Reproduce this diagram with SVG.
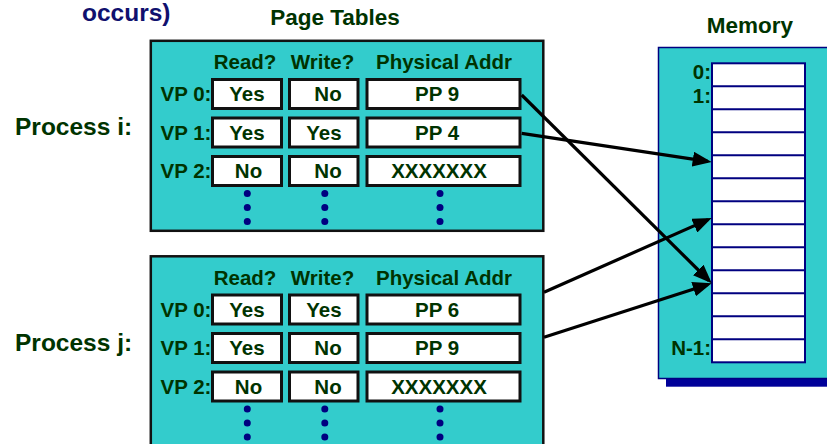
<svg xmlns="http://www.w3.org/2000/svg" width="827" height="444" viewBox="0 0 827 444">
<defs>
<style>
text{font-family:"Liberation Sans",Arial,sans-serif;font-weight:bold;fill:#003300}
.t{font-size:20.5px}
.m{text-anchor:middle}
.e{text-anchor:end}
.box{fill:#33CCCC;stroke:#111;stroke-width:2.5}
.cell{fill:#fff;stroke:#111;stroke-width:3}
.dot{fill:#000080}
.mcell{fill:#fff;stroke:#000080;stroke-width:2}
.arr{stroke:#000;stroke-width:3.2;fill:none;marker-end:url(#ah)}
</style>
<marker id="ah" markerUnits="userSpaceOnUse" markerWidth="19" markerHeight="15" refX="15" refY="7.5" orient="auto" viewBox="0 0 19 15">
<path d="M0,0 L19,7.5 L0,15 z" fill="#000"/>
</marker>
<g id="tbl">
<text class="t m" x="245" y="69.3">Read?</text>
<text class="t m" x="322.5" y="69.3">Write?</text>
<text class="t m" x="444" y="69.3">Physical Addr</text>
<rect class="cell" x="212.5" y="79.5" width="69" height="29"/>
<rect class="cell" x="289.5" y="79.5" width="68.5" height="29"/>
<rect class="cell" x="367" y="79.5" width="153" height="29"/>
<rect class="cell" x="212.5" y="118" width="69" height="29"/>
<rect class="cell" x="289.5" y="118" width="68.5" height="29"/>
<rect class="cell" x="367" y="118" width="153" height="29"/>
<rect class="cell" x="212.5" y="156.5" width="69" height="29"/>
<rect class="cell" x="289.5" y="156.5" width="68.5" height="29"/>
<rect class="cell" x="367" y="156.5" width="153" height="29"/>
<text class="t" x="160.5" y="101">VP 0:</text>
<text class="t" x="160.5" y="139.5">VP 1:</text>
<text class="t" x="160.5" y="178">VP 2:</text>
<circle class="dot" cx="247.3" cy="193.5" r="3.5"/>
<circle class="dot" cx="247.3" cy="207.5" r="3.5"/>
<circle class="dot" cx="247.3" cy="221.5" r="3.5"/>
<circle class="dot" cx="324.8" cy="193.5" r="3.5"/>
<circle class="dot" cx="324.8" cy="207.5" r="3.5"/>
<circle class="dot" cx="324.8" cy="221.5" r="3.5"/>
<circle class="dot" cx="440" cy="193.5" r="3.5"/>
<circle class="dot" cx="440" cy="207.5" r="3.5"/>
<circle class="dot" cx="440" cy="221.5" r="3.5"/>
</g>
</defs>

<text x="82" y="21" style="font-size:24.5px;fill:#10106e">occurs)</text>
<text class="m" x="335" y="25" style="font-size:22.5px">Page Tables</text>
<text class="m" x="750" y="33.3" style="font-size:22.5px">Memory</text>

<g id="process-i">
<text x="15" y="135" style="font-size:24.5px">Process i:</text>
<rect class="box" x="150.8" y="40.8" width="392.5" height="190"/>
<use href="#tbl"/>
<text class="t m" x="247" y="101">Yes</text>
<text class="t m" x="328" y="101">No</text>
<text class="t m" x="437" y="101">PP 9</text>
<text class="t m" x="247" y="139.5">Yes</text>
<text class="t m" x="324" y="139.5">Yes</text>
<text class="t m" x="437" y="139.5">PP 4</text>
<text class="t m" x="248.5" y="178">No</text>
<text class="t m" x="328" y="178">No</text>
<text class="t m" x="439" y="178">XXXXXXX</text>
</g>

<g id="process-j">
<text x="15" y="350.5" style="font-size:24.5px">Process j:</text>
<rect class="box" x="150.8" y="256.3" width="392.5" height="210"/>
<use href="#tbl" transform="translate(0,215.5)"/>
<text class="t m" x="247" y="316.5">Yes</text>
<text class="t m" x="324" y="316.5">Yes</text>
<text class="t m" x="437" y="316.5">PP 6</text>
<text class="t m" x="247" y="355">Yes</text>
<text class="t m" x="328" y="355">No</text>
<text class="t m" x="437" y="355">PP 9</text>
<text class="t m" x="248.5" y="393.5">No</text>
<text class="t m" x="328" y="393.5">No</text>
<text class="t m" x="439" y="393.5">XXXXXXX</text>
</g>

<g id="memory">
<rect x="666" y="55.5" width="200" height="331.2" fill="#000099"/>
<rect x="658.5" y="47.5" width="200" height="331" fill="#33CCCC" stroke="#000080" stroke-width="1.5"/>
<rect class="mcell" x="712" y="63.3" width="93" height="299"/>
<path d="M712,86.3H805M712,109.3H805M712,132.3H805M712,155.3H805M712,178.3H805M712,201.3H805M712,224.3H805M712,247.3H805M712,270.3H805M712,293.3H805M712,316.3H805M712,339.3H805" stroke="#000080" stroke-width="2"/>
<text class="t e" x="711" y="78.5">0:</text>
<text class="t e" x="711" y="102.5">1:</text>
<text class="t e" x="711" y="355">N-1:</text>
</g>

<g id="connectors">
<path class="arr" d="M521.7,95 L708.9,280.5"/>
<path class="arr" d="M521.7,133.3 L707.7,161.4"/>
<path class="arr" d="M544,292.3 L708,219.6"/>
<path class="arr" d="M544,337.3 L707.9,284.5"/>
</g>
</svg>
